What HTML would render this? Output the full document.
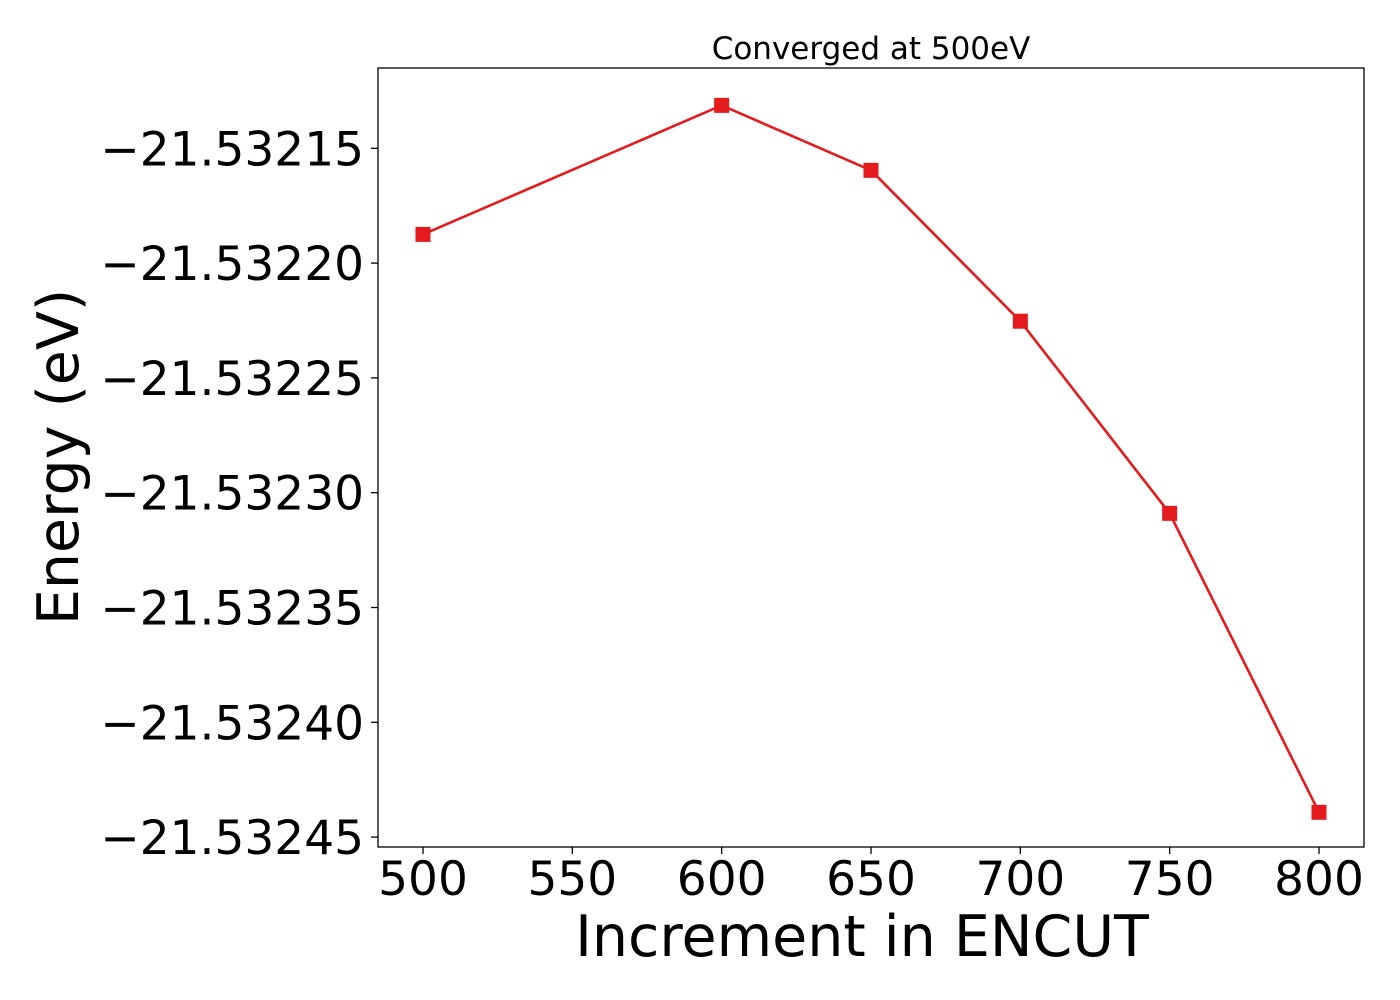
<!DOCTYPE html>
<html><head><meta charset="utf-8"><style>body{margin:0;background:#fff}svg{display:block}text{font-family:"DejaVu Sans","Liberation Sans",sans-serif;fill:#000}</style></head>
<body>
<svg id="chart" width="1400" height="1000" xmlns="http://www.w3.org/2000/svg">
<rect x="0" y="0" width="1400" height="1000" fill="#fff"/>
<g id="ticks"></g>
<g id="series"></g>
<rect x="378" y="68" width="986" height="779" fill="none" stroke="#000" stroke-width="1.3"/>
<text x="871" y="59" font-size="31" text-anchor="middle">Converged at 500eV</text>
<text x="862" y="956" font-size="57" text-anchor="middle">Increment in ENCUT</text>
<text transform="translate(78,457) rotate(-90)" font-size="57" text-anchor="middle">Energy (eV)</text>
</svg>
<script>
const xValues = [500, 600, 650, 700, 750, 800];
const energies = [-21.5321875, -21.5321313, -21.5321596, -21.5322253, -21.532309, -21.5324392];
const xTicks = [500, 550, 600, 650, 700, 750, 800];
const yTicks = [-21.53215, -21.5322, -21.53225, -21.5323, -21.53235, -21.5324, -21.53245];
const yTickLabels = ["\u221221.53215","\u221221.53220","\u221221.53225","\u221221.53230","\u221221.53235","\u221221.53240","\u221221.53245"];
const NS = "http://www.w3.org/2000/svg";
function xs(v){ return 423 + (v - 500) * (896 / 300); }
function ys(v){ return 148.3 + (-21.53215 - v) / 0.00005 * 114.8; }
const tg = document.getElementById('ticks');
xTicks.forEach(t => {
  const l = document.createElementNS(NS,'line');
  
  
  l.setAttribute('x1',xs(t)); l.setAttribute('x2',xs(t));
  l.setAttribute('y1',847); l.setAttribute('y2',854);
  l.setAttribute('stroke','#000'); l.setAttribute('stroke-width','1.3');
  tg.appendChild(l);
  const tx = document.createElementNS(NS,'text');
  
  
  tx.setAttribute('x',xs(t)); tx.setAttribute('y',895);
  tx.setAttribute('font-size','47'); tx.setAttribute('text-anchor','middle');
  tx.textContent = t;
  tg.appendChild(tx);
});
yTicks.forEach((t,i) => {
  const l = document.createElementNS(NS,'line');
  
  
  l.setAttribute('x1',371); l.setAttribute('x2',378);
  l.setAttribute('y1',ys(t)); l.setAttribute('y2',ys(t));
  l.setAttribute('stroke','#000'); l.setAttribute('stroke-width','1.3');
  tg.appendChild(l);
  const tx = document.createElementNS(NS,'text');
  
  
  tx.setAttribute('x',364); tx.setAttribute('y',ys(t)+17);
  tx.setAttribute('font-size','47'); tx.setAttribute('text-anchor','end');
  tx.textContent = yTickLabels[i];
  tg.appendChild(tx);
});
const sg = document.getElementById('series');
const pl = document.createElementNS(NS,'polyline');


pl.setAttribute('points', xValues.map((x,i)=>xs(x)+','+ys(energies[i])).join(' '));
pl.setAttribute('fill','none'); pl.setAttribute('stroke','#e41a1c'); pl.setAttribute('stroke-width','2.6');
sg.appendChild(pl);
xValues.forEach((x,i) => {
  const r = document.createElementNS(NS,'rect');
  
  
  r.setAttribute('x',xs(x)-7.5); r.setAttribute('y',ys(energies[i])-7.5);
  r.setAttribute('width',15); r.setAttribute('height',15);
  r.setAttribute('fill','#e41a1c');
  sg.appendChild(r);
});
</script>
</body></html>
